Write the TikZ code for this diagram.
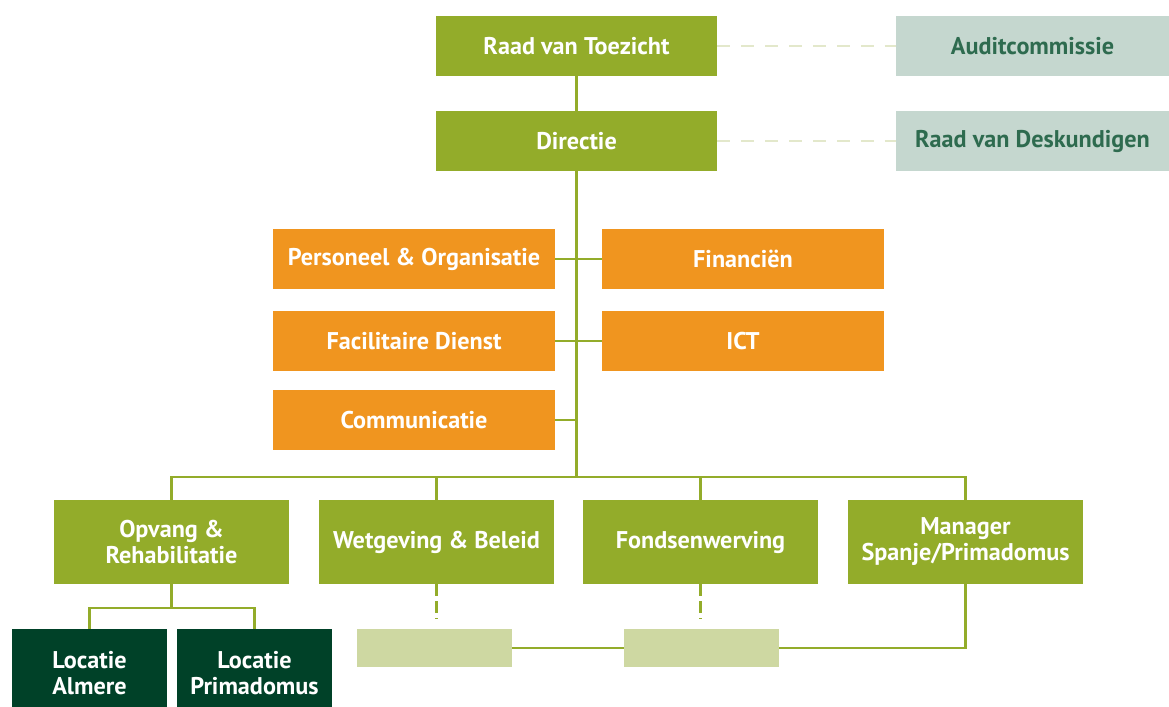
\documentclass[tikz,border=0pt]{standalone}
\usepackage{fontspec}
\setmainfont{PT Sans}
\usepackage{tikz}
\usepackage{color,xcolor}
\definecolor{gr}{HTML}{93AC2A}
\definecolor{or}{HTML}{F0951F}
\definecolor{gy}{HTML}{C5D7CF}
\definecolor{gyt}{HTML}{2E6B4F}
\definecolor{dk}{HTML}{004128}
\definecolor{lg}{HTML}{CED8A2}
\definecolor{ds}{HTML}{E3E8CB}

\begin{document}
\begin{tikzpicture}[x=0.025cm,y=-0.025cm]
            \tikzstyle{every node}=[font=\bfseries\fontsize{17.2}{18.5}\selectfont,text=white,align=center,inner sep=0pt]
            \tikzstyle{top}=[fill=gr,minimum width=7.025cm,minimum height=1.5cm]
            \tikzstyle{side}=[fill=gy,text=gyt,minimum width=6.825cm,minimum height=1.5cm]
            \tikzstyle{staf}=[fill=or,minimum width=7.05cm,minimum height=1.5cm]
            \tikzstyle{afd}=[fill=gr,minimum width=5.875cm,minimum height=2.1cm]
            \tikzstyle{loc}=[fill=dk,minimum width=3.875cm,minimum height=2.2cm]
            \tikzstyle{leeg}=[fill=lg,minimum width=3.875cm,minimum height=0.95cm]
            \tikzstyle{lijn}=[draw=gr,line width=1.8pt]
            \tikzstyle{stip}=[draw=ds,line width=2.1pt,dash pattern=on 9.2pt off 7.8pt]
            \useasboundingbox (0,0) rectangle (1169,706);
            \node[top] (toezicht) at (576.5,46) {Raad van Toezicht};
            \node[side] (audit) at (1032.5,46) {Auditcommissie};
            \node[top] (directie) at (576.5,141) {Directie};
            \node[side] (deskundigen) at (1032.5,141) {Raad van Deskundigen};
            \node[staf] (personeel) at (414,259) {Personeel \& Organisatie};
            \node[staf] (financien) at (743,259) {Financiën};
            \node[staf] (facilitair) at (414,341) {Facilitaire Dienst};
            \node[staf] (ict) at (743,341) {ICT};
            \node[staf] (communicatie) at (414,420) {Communicatie};
            \node[afd] (opvang) at (171.5,542) {Opvang \&\\Rehabilitatie};
            \node[afd] (wetgeving) at (436.5,542) {Wetgeving \& Beleid};
            \node[afd] (fondsen) at (700.5,542) {Fondsenwerving};
            \node[afd] (manager) at (965.5,542) {Manager\\Spanje/Primadomus};
            \node[loc] (almere) at (89.5,673) {Locatie\\Almere};
            \node[loc] (primadomus) at (254.5,673) {Locatie\\Primadomus};
            \node[leeg] (leeg1) at (434.5,648) {};
            \node[leeg] (leeg2) at (701.5,648) {};
            \coordinate (bus) at (576.5,477);
            \coordinate (sub) at (171.5,608);
            % lijnen
            \draw[stip] (toezicht.east) -- (audit.west);
            \draw[stip] (directie.east) -- (deskundigen.west);
            \draw[lijn] (toezicht) -- (directie);
            \draw[lijn] (directie) -- (bus);
            \draw[lijn] (personeel) -- (financien);
            \draw[lijn] (facilitair) -- (ict);
            \draw[lijn] (communicatie.east) -- (communicatie.east -| bus);
            \draw[lijn] (opvang.north) |- (bus) -| (manager.north);
            \draw[lijn] (wetgeving.north) -- (wetgeving.north |- bus);
            \draw[lijn] (fondsen.north) -- (fondsen.north |- bus);
            \draw[lijn] (opvang) -- (sub);
            \draw[lijn] (almere.north) |- (sub) -| (primadomus.north);
            \draw[lijn,dash pattern=on 8.5pt off 3.5pt] (wetgeving.south) -- ++(0,34);
            \draw[lijn,dash pattern=on 8.5pt off 3.5pt] (fondsen.south) -- ++(0,34);
            \draw[lijn] (leeg1) -- (leeg2);
            \draw[lijn] (leeg2.east) -| (manager.south);
          \end{tikzpicture}
\end{document}
